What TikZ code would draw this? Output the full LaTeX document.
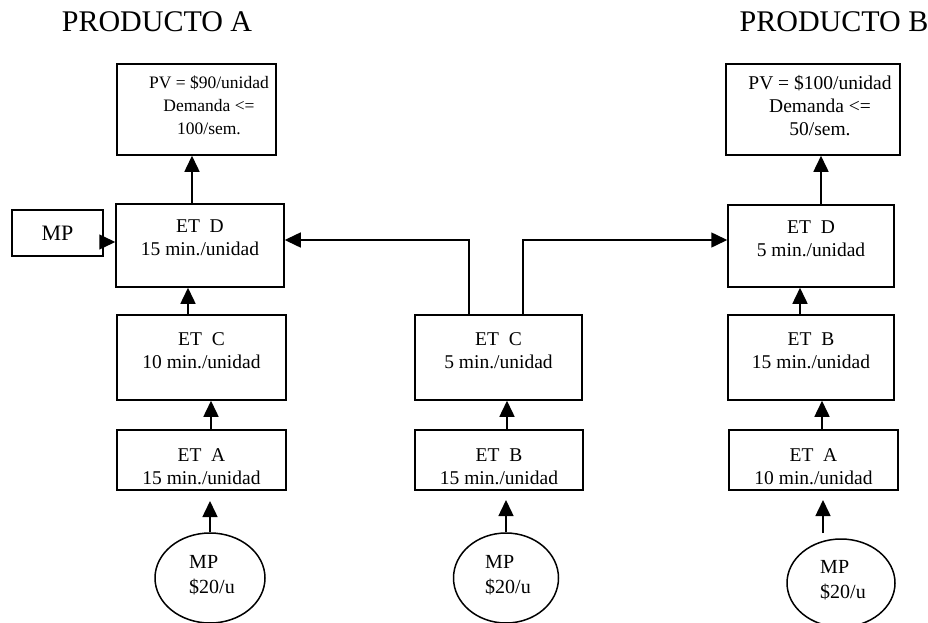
\documentclass[tikz,border=0pt]{standalone}
\usepackage{fontspec}
\setmainfont{Liberation Serif}
\usetikzlibrary{arrows.meta,shapes.geometric}
\tikzset{
  box/.style={draw, line width=1.5pt, inner sep=0pt},
  lbl/.style={align=center, font=\fontsize{19.5}{23}\selectfont, inner sep=0pt},
  ovtxt/.style={align=left, font=\fontsize{20}{25}\selectfont, inner sep=0pt},
  heading/.style={font=\fontsize{30}{33}\selectfont, inner sep=0pt},
  mpoval/.style={draw, ellipse, line width=1.5pt, inner sep=0pt},
  flow/.style={line width=1.5pt, -{Triangle[length=16pt,width=15pt]}},
}
\begin{document}
\begin{tikzpicture}[x=1pt,y=-1pt]
\useasboundingbox (0,0) rectangle (928,623);

% headings
\node[heading] (hA) at (157,22) {PRODUCTO A};
\node[heading] (hB) at (834,22) {PRODUCTO B};

% ---- product A column
\node[box, minimum width=159pt, minimum height=91pt] (pvA) at (196.5,109.5) {};
\node[lbl, font=\fontsize{17.5}{23}\selectfont] (pvAt) at (209,105.5) {PV = \$90/unidad\\Demanda <=\\100/sem.};

\node[box, minimum width=168pt, minimum height=83pt] (etDA) at (200,245.5) {};
\node[lbl] (etDAt) at (200,238) {ET\ \ D\\15 min./unidad};

\node[box, minimum width=91pt, minimum height=46pt] (mp) at (57.5,233) {};
\node[font=\fontsize{22}{24}\selectfont, inner sep=0pt] (mpt) at (57.5,233) {MP};

\node[box, minimum width=169pt, minimum height=85pt] (etCA) at (201.5,357.5) {};
\node[lbl] (etCAt) at (201.5,351) {ET\ \ C\\10 min./unidad};

\node[box, minimum width=169pt, minimum height=60pt] (etAA) at (201.5,460) {};
\node[lbl] (etAAt) at (201.5,467) {ET\ \ A\\15 min./unidad};

\node[mpoval, minimum width=110pt, minimum height=90pt] (ovA) at (210,578) {};
\node[ovtxt] (ovAt) at (212,575) {MP\\\$20/u};

% ---- shared column
\node[box, minimum width=167pt, minimum height=85pt] (etCM) at (498.5,357.5) {};
\node[lbl] (etCMt) at (498.5,351) {ET\ \ C\\5 min./unidad};

\node[box, minimum width=168pt, minimum height=60pt] (etBM) at (499,460) {};
\node[lbl] (etBMt) at (499,467) {ET\ \ B\\15 min./unidad};

\node[mpoval, minimum width=105pt, minimum height=90pt] (ovM) at (506,578) {};
\node[ovtxt] (ovMt) at (508,575) {MP\\\$20/u};

% ---- product B column
\node[box, minimum width=174pt, minimum height=91pt] (pvB) at (813,109.5) {};
\node[lbl] (pvBt) at (820,105.5) {PV = \$100/unidad\\Demanda <=\\50/sem.};

\node[box, minimum width=166pt, minimum height=82pt] (etDB) at (811,246) {};
\node[lbl] (etDBt) at (811,239) {ET\ \ D\\5 min./unidad};

\node[box, minimum width=166pt, minimum height=85pt] (etBB) at (811,357.5) {};
\node[lbl] (etBBt) at (811,351) {ET\ \ B\\15 min./unidad};

\node[box, minimum width=169pt, minimum height=60pt] (etAB) at (813.5,460) {};
\node[lbl] (etABt) at (813.5,467) {ET\ \ A\\10 min./unidad};

\node[mpoval, minimum width=108pt, minimum height=88pt] (ovB) at (841,583) {};
\node[ovtxt] (ovBt) at (843,580) {MP\\\$20/u};

% free ends of the raw-material feed arrows
\coordinate (inA) at (210,501);
\coordinate (inM) at (506,500);
\coordinate (inB) at (823,500);
\coordinate (srcB) at (823,533);

% ---- flows, product A
\draw[flow] (etDA.north -| 192,0) -- (pvA.south -| 192,0);
\draw[flow] ([yshift=-9pt]mp.east) -- ([yshift=-9pt]mp.east -| etDA.west);
\draw[flow] (etCA.north -| 188,0) -- (etDA.south -| 188,0);
\draw[flow] (etAA.north -| 211,0) -- (etCA.south -| 211,0);
\draw[flow] (ovA.north) -- (inA);

% ---- flows, shared column
\draw[flow] (etCM.north -| 469,0) -- (469,240) -- (etDA.east |- 0,240);
\draw[flow] (etCM.north -| 523,0) -- (523,240) -- (etDB.west |- 0,240);
\draw[flow] (etBM.north -| 507,0) -- (etCM.south -| 507,0);
\draw[flow] (ovM.north) -- (inM);

% ---- flows, product B
\draw[flow] (etDB.north -| 821,0) -- (pvB.south -| 821,0);
\draw[flow] (etBB.north -| 800,0) -- (etDB.south -| 800,0);
\draw[flow] (etAB.north -| 822,0) -- (etBB.south -| 822,0);
\draw[flow] (srcB) -- (inB);
\end{tikzpicture}
\end{document}
